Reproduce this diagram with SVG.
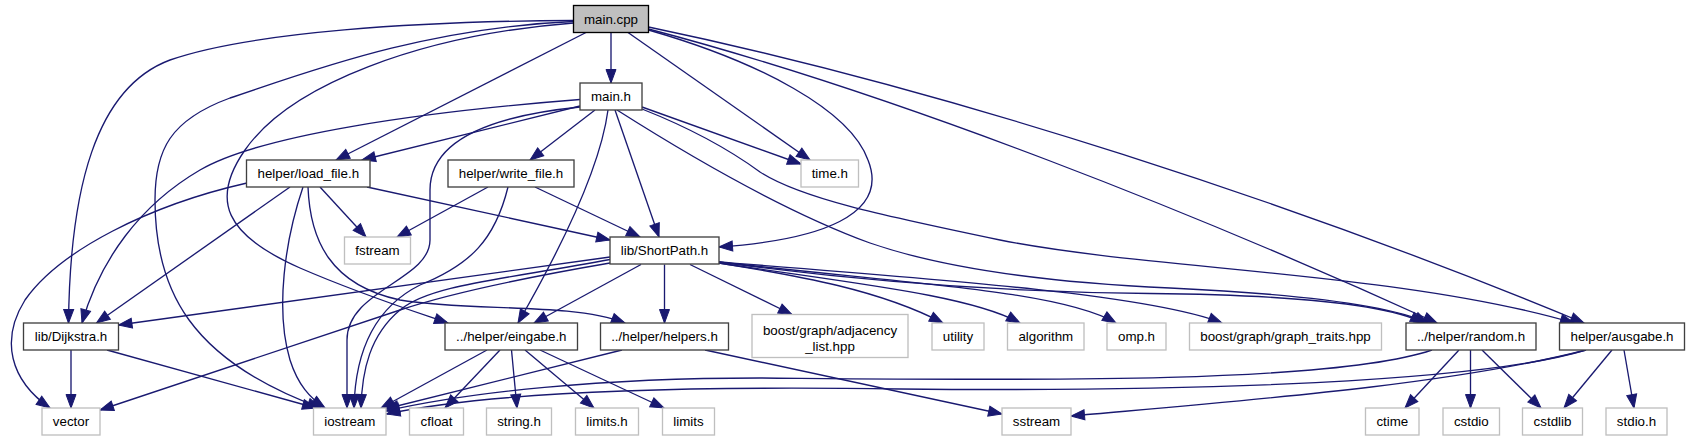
<svg xmlns="http://www.w3.org/2000/svg" width="1689" height="443" viewBox="0 0 1689 443">
<defs>
<style>
.n rect{fill:#ffffff;stroke:#404040;stroke-width:1.33}
.g rect{fill:#ffffff;stroke:#bfbfbf;stroke-width:1.33}
.root rect{fill:#bfbfbf;stroke:#000000;stroke-width:1.33}
text{font-family:"Liberation Sans",Arial,Helvetica,sans-serif;font-size:13.33px;fill:#000000;text-anchor:middle}
#edges path{fill:none;stroke:#191970;stroke-width:1.33;marker-end:url(#arr)}
</style>
<marker id="arr" markerUnits="userSpaceOnUse" markerWidth="16" markerHeight="12" refX="13.5" refY="5" orient="auto" overflow="visible">
<path d="M0,0 L13.5,5 L0,10 z" fill="#191970" stroke="#191970" stroke-width="1"/>
</marker>
</defs>
<rect x="0" y="0" width="1689" height="443" fill="#ffffff"/>
<g id="edges">
<path d="M611,32.5 L611,83"/>
<path d="M586,32.5 L336,160"/>
<path d="M573.5,20.5 C420,21 250,32 170,60 C95,88 70,190 68.5,323"/>
<path d="M573.5,21.5 C420,28 300,75 230,98 C170,120 155,150 155,200 C155,290 190,360 321,408"/>
<path d="M573.5,23 C420,35 290,85 245,150 C210,200 225,235 300,268 C360,294 410,310 448,323"/>
<path d="M628,32.5 L810,160"/>
<path d="M648.5,30 C760,62 850,110 868,160 C890,215 820,240 719,247"/>
<path d="M648.5,29 C900,95 1200,215 1437,323"/>
<path d="M648.5,27 C950,90 1300,205 1584,323"/>
<path d="M580,106 L362,160"/>
<path d="M580,99.5 C420,112 260,135 200,170 C140,205 100,260 82,323"/>
<path d="M580,107 C470,118 430,150 430,190 L430,240 C430,280 347,290 347,340 L347,408"/>
<path d="M595,110 L530,160"/>
<path d="M608,110 C600,170 560,250 518,323"/>
<path d="M615,110 L659,237"/>
<path d="M642,107 L801,164"/>
<path d="M617,110 C680,150 780,210 870,243 C960,274 1080,284 1170,288 C1300,294 1390,305 1428,323"/>
<path d="M642,109 C690,128 730,150 760,172 C800,198 880,215 1000,240 C1150,270 1400,272 1574,323"/>
<path d="M247,183 C150,205 60,250 25,300 C0,340 10,380 50,408"/>
<path d="M290,187 L96.5,323"/>
<path d="M303,187 C285,240 275,310 290,360 C298,385 310,398 325,408"/>
<path d="M320,187 L366,237"/>
<path d="M367,187 L610,240"/>
<path d="M308,187 C310,240 330,285 400,300 C470,312 570,302 625,323"/>
<path d="M488,187 L397,237"/>
<path d="M508,187 C495,240 470,265 420,285 C370,310 355,360 354,408"/>
<path d="M535,187 L640,237"/>
<path d="M610,257 L118.5,325"/>
<path d="M610,259.5 C500,280 430,285 400,310 C370,335 362,370 361,408"/>
<path d="M610,263 C540,275 460,290 400,310 L100,410"/>
<path d="M641,264.5 L534,323"/>
<path d="M664.5,264.5 L664.5,323"/>
<path d="M690,264.5 L792,314.5"/>
<path d="M719,263 C800,276 880,290 943,323"/>
<path d="M719,263 C850,283 970,295 1020,323"/>
<path d="M719,262 C900,283 1060,290 1116,323"/>
<path d="M719,262 C950,280 1150,295 1222,323"/>
<path d="M719,262 C850,280 1000,292 1150,293.5 C1300,295 1390,306 1424,323"/>
<path d="M71,350 L71,408"/>
<path d="M107,350 L316,408"/>
<path d="M487,350 L381,408"/>
<path d="M500,350 L445,408"/>
<path d="M511.5,350 L517,408"/>
<path d="M525,350 L594,408"/>
<path d="M540,350 L664,408"/>
<path d="M622,350 L385,409"/>
<path d="M705,350 L1002,414"/>
<path d="M1432,350 C1330,385 1000,380 760,378 C600,378 470,392 386,411"/>
<path d="M1459,350 L1405,408"/>
<path d="M1470.5,350 L1470.5,408"/>
<path d="M1482,350 L1541,408"/>
<path d="M1586,350 C1480,382 1200,392 900,389 C700,386 500,390 386.5,414"/>
<path d="M1586,350 C1450,385 1250,400 1071,416"/>
<path d="M1612,350 L1564,408"/>
<path d="M1624,350 L1634,408"/>
</g>
<g id="node-main-cpp" class="root"><rect x="573.5" y="5.5" width="75" height="27"/><text x="611" y="23.7">main.cpp</text></g>
<g id="node-main-h" class="n"><rect x="580" y="83" width="62" height="27"/><text x="611" y="101.2">main.h</text></g>
<g id="node-load-file" class="n"><rect x="246.5" y="160" width="123.5" height="27"/><text x="308.3" y="178.2">helper/load_file.h</text></g>
<g id="node-write-file" class="n"><rect x="448" y="160" width="126" height="27"/><text x="511" y="178.2">helper/write_file.h</text></g>
<g id="node-time-h" class="g"><rect x="801" y="160" width="57.5" height="27"/><text x="829.8" y="178.2">time.h</text></g>
<g id="node-fstream" class="g"><rect x="344.5" y="237" width="66" height="27"/><text x="377.5" y="255.2">fstream</text></g>
<g id="node-shortpath" class="n"><rect x="610" y="237" width="109" height="27"/><text x="664.5" y="255.2">lib/ShortPath.h</text></g>
<g id="node-dijkstra" class="n"><rect x="23.5" y="323" width="95" height="27"/><text x="71" y="341.2">lib/Dijkstra.h</text></g>
<g id="node-eingabe" class="n"><rect x="445" y="323" width="132.5" height="27"/><text x="511.3" y="341.2">../helper/eingabe.h</text></g>
<g id="node-helpers" class="n"><rect x="600.5" y="323" width="128" height="27"/><text x="664.5" y="341.2">../helper/helpers.h</text></g>
<g id="node-adjacency" class="g"><rect x="752" y="314.5" width="156" height="43"/><text x="830" y="334.7">boost/graph/adjacency</text><text x="830" y="350.7">_list.hpp</text></g>
<g id="node-utility" class="g"><rect x="932" y="323" width="52" height="27"/><text x="958" y="341.2">utility</text></g>
<g id="node-algorithm" class="g"><rect x="1007.5" y="323" width="76.5" height="27"/><text x="1045.8" y="341.2">algorithm</text></g>
<g id="node-omp" class="g"><rect x="1107" y="323" width="59" height="27"/><text x="1136.5" y="341.2">omp.h</text></g>
<g id="node-graph-traits" class="g"><rect x="1189.5" y="323" width="192" height="27"/><text x="1285.5" y="341.2">boost/graph/graph_traits.hpp</text></g>
<g id="node-random" class="n"><rect x="1406" y="323" width="130" height="27"/><text x="1471" y="341.2">../helper/random.h</text></g>
<g id="node-ausgabe" class="n"><rect x="1559.5" y="323" width="125" height="27"/><text x="1622" y="341.2">helper/ausgabe.h</text></g>
<g id="node-vector" class="g"><rect x="42" y="408" width="58" height="27"/><text x="71" y="426.2">vector</text></g>
<g id="node-iostream" class="g"><rect x="313.5" y="408" width="72.5" height="27"/><text x="349.8" y="426.2">iostream</text></g>
<g id="node-cfloat" class="g"><rect x="409.5" y="408" width="54" height="27"/><text x="436.5" y="426.2">cfloat</text></g>
<g id="node-string-h" class="g"><rect x="486.5" y="408" width="65" height="27"/><text x="519" y="426.2">string.h</text></g>
<g id="node-limits-h" class="g"><rect x="575.5" y="408" width="63" height="27"/><text x="607" y="426.2">limits.h</text></g>
<g id="node-limits" class="g"><rect x="662.5" y="408" width="52" height="27"/><text x="688.5" y="426.2">limits</text></g>
<g id="node-sstream" class="g"><rect x="1002" y="408" width="69" height="27"/><text x="1036.5" y="426.2">sstream</text></g>
<g id="node-ctime" class="g"><rect x="1365.5" y="408" width="53.5" height="27"/><text x="1392.3" y="426.2">ctime</text></g>
<g id="node-cstdio" class="g"><rect x="1443" y="408" width="56.5" height="27"/><text x="1471.3" y="426.2">cstdio</text></g>
<g id="node-cstdlib" class="g"><rect x="1522.5" y="408" width="60" height="27"/><text x="1552.5" y="426.2">cstdlib</text></g>
<g id="node-stdio-h" class="g"><rect x="1606" y="408" width="61" height="27"/><text x="1636.5" y="426.2">stdio.h</text></g>
</svg>
